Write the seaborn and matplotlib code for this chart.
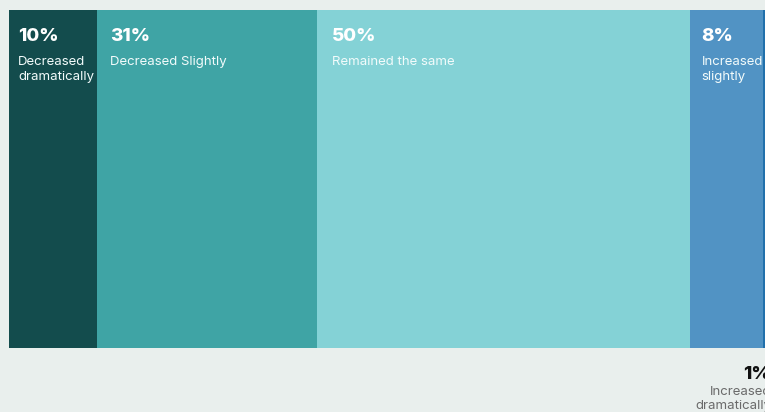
import matplotlib
matplotlib.use("Agg")
import matplotlib.pyplot as plt
import seaborn as sns
import numpy as np

# ---- data ----
categories = ["Decreased\ndramatically", "Decreased Slightly", "Remained the same",
              "Increased\nslightly", "Increased\ndramatically"]
percent_labels = ["10%", "31%", "50%", "8%", "1%"]
# segment shares as drawn in the reference bar (0-100 scale)
shares = [11.55, 28.87, 48.95, 9.54, 1.09]
colors = ["#134c4d", "#3fa4a5", "#84d2d6", "#5193c4", "#2170ab"]

BG = "#e9efed"
sns.set_theme(style="white")
plt.rcParams["font.family"] = ["Inter", "DejaVu Sans"]

fig = plt.figure(figsize=(7.65, 4.12), dpi=100, facecolor=BG)
W, H = 765, 412
# axes extends beyond right figure edge (reference is clipped)
left_px, top_px, bottom_px, width_px = 9, 10, 348, 762
ax = fig.add_axes([left_px / W, 1 - bottom_px / H, width_px / W, (bottom_px - top_px) / H])
ax.set_facecolor(BG)

cum = np.cumsum(shares)
starts = cum - np.array(shares)
# classic stacked trick: draw cumulative bars from longest to shortest
for i in range(len(shares) - 1, -1, -1):
    sns.barplot(x=[cum[i]], y=[0], orient="h", color=colors[i], width=1.0,
                saturation=1, ax=ax, edgecolor="none", linewidth=0)

ax.set_xlim(0, 100)
ax.set_ylim(0.5, -0.5)
ax.axis("off")

# labels
px_per_unit = width_px / 100.0
text_pad = [9, 13, 15, 11.5]
for i in range(4):
    x_fig = (left_px + starts[i] * px_per_unit + text_pad[i]) / W
    fig.text(x_fig, 1 - 41 / H, percent_labels[i], color="white", fontsize=13.5,
             fontweight=800, ha="left", va="baseline")
    lines = categories[i].split("\n")
    for j, ln in enumerate(lines):
        fig.text(x_fig, 1 - (65 + 15 * j) / H, ln, color="#f2fbfb", fontsize=9.5,
                 ha="left", va="baseline")

# last (small) segment label below the bar, right aligned (clipped as in reference)
xr = 771 / W
fig.text(xr, 1 - 379 / H, percent_labels[4], color="#111111", fontsize=13.5,
         fontweight=800, ha="right", va="baseline")
for j, ln in enumerate(categories[4].split("\n")):
    fig.text(xr, 1 - (395 + 14.5 * j) / H, ln, color="#6a6a6a",
             fontsize=9.5, ha="right", va="baseline")

fig.savefig("out.png", dpi=100, facecolor=BG)
